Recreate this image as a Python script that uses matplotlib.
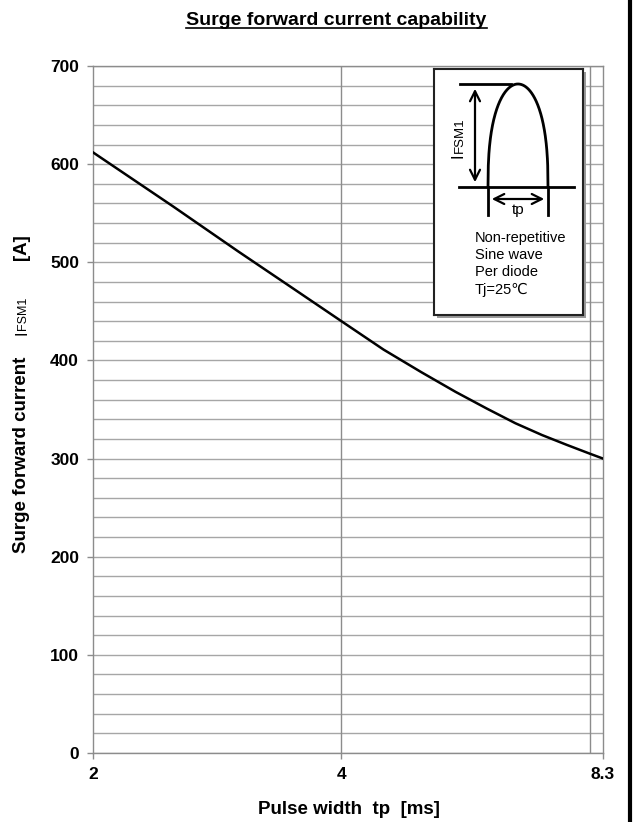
import numpy as np
import matplotlib
matplotlib.use('Agg')
import matplotlib.pyplot as plt
from matplotlib.lines import Line2D
from matplotlib.patches import Rectangle
from matplotlib.ticker import FixedLocator, MultipleLocator, NullLocator

plt.rcParams['font.family'] = ['Liberation Sans', 'DejaVu Sans']

# surge current vs pulse width
pulse_width_ms = [2, 2.5, 3, 3.5, 4, 4.5, 5, 5.5, 6, 6.5, 7, 7.5, 8, 8.3]
surge_current_a = [612, 557, 511, 473, 440, 411, 388, 368, 351, 336, 324, 314, 305, 300]

x_ticks = [2, 4, 8.3]
x_tick_labels = ['2', '4', '8.3']
y_ticks = [0, 100, 200, 300, 400, 500, 600, 700]

W, H = 633, 822


# pixel position (from top-left) -> figure fraction
def px(x, y):
    return x / W, 1 - y / H


fig = plt.figure(figsize=(W / 100, H / 100), dpi=100)
ax = fig.add_axes([93 / W, 1 - 753 / H, (603 - 93) / W, (753 - 66) / H])

ax.plot(pulse_width_ms, surge_current_a, color='black', lw=1.8, zorder=3)

ax.set_xscale('log')
ax.set_xlim(2, 8.3)
ax.set_ylim(0, 700)
ax.xaxis.set_major_locator(FixedLocator(x_ticks))
ax.set_xticklabels(x_tick_labels)
ax.xaxis.set_minor_locator(NullLocator())
ax.yaxis.set_major_locator(FixedLocator(y_ticks))
ax.yaxis.set_minor_locator(MultipleLocator(20))

grid_col = '#a6a6a6'
ax.grid(axis='y', which='both', color=grid_col, lw=1.0, zorder=1)
ax.axvline(4, color='#8c8c8c', lw=1.0, zorder=1)
ax.axvline(8, color='#8c8c8c', lw=1.0, zorder=1)
ax.set_axisbelow(True)

for s in ax.spines.values():
    s.set_color('#8c8c8c')
    s.set_linewidth(1.0)

ax.tick_params(axis='both', which='major', length=4, width=1, color='#8c8c8c',
               labelsize=12.5, pad=6)
ax.tick_params(axis='y', which='minor', length=0)
for lab in ax.get_xticklabels() + ax.get_yticklabels():
    lab.set_fontweight('bold')

# title with underline
fig.text(*px(336.5, 25), 'Surge forward current capability', ha='center', va='baseline',
         fontsize=14, fontweight='bold')
fig.add_artist(Line2D([186 / W, 487 / W], [1 - 28 / H] * 2, color='black', lw=1.2))

# x label
fig.text(*px(348.5, 814), 'Pulse width  tp  [ms]', ha='center', va='baseline',
         fontsize=13.5, fontweight='bold')

# y label pieces (rotated)
rot = dict(rotation=90, rotation_mode='anchor', ha='left', va='baseline')
fig.text(*px(26, 553), 'Surge forward current', fontsize=13.5, fontweight='bold', **rot)
fig.text(*px(26, 335), 'I', fontsize=11.5, **rot)
fig.text(*px(26, 330), 'FSM1', fontsize=9, **rot)
fig.text(*px(26, 260), '[A]', fontsize=13.5, fontweight='bold', **rot)

# page border on the right
fig.add_artist(Line2D([630 / W] * 2, [0, 1], color='black', lw=3))

# inset schematic, drawn in pixel coordinates
fig.add_artist(Rectangle(px(437, 318), 149 / W, 246 / H, facecolor='#9a9a9a',
                         edgecolor='none', zorder=1))
ins = fig.add_axes([434 / W, 1 - 315 / H, 149 / W, 246 / H], zorder=2)
ins.set_xlim(434, 583)
ins.set_ylim(315, 69)
ins.set_xticks([])
ins.set_yticks([])
for s in ins.spines.values():
    s.set_color('#222222')
    s.set_linewidth(1.5)

ins.plot([460, 511], [84, 84], color='black', lw=2)
ins.plot([459, 574], [187, 187], color='black', lw=2)
u = np.linspace(-1, 1, 200)
arc_x = 518 + 30 * u
arc_y = 187 - 103 * (1 - u ** 2) ** (1 / 2.5)
ins.plot(arc_x, arc_y, color='black', lw=2)
ins.plot([488, 488], [187, 215], color='black', lw=2)
ins.plot([548, 548], [187, 215], color='black', lw=2)
ins.annotate('', xy=(475, 86), xytext=(475, 185),
             arrowprops=dict(arrowstyle='<->', color='black', lw=1.6, mutation_scale=18))
ins.annotate('', xy=(489, 199), xytext=(547, 199),
             arrowprops=dict(arrowstyle='<->', color='black', lw=1.6, mutation_scale=18))
ins.text(518, 210, 'tp', ha='center', va='center', fontsize=11)
ins.text(463, 158, 'I', fontsize=12, **rot)
ins.text(463, 153, 'FSM1', fontsize=9.5, **rot)

notes = ['Non-repetitive', 'Sine wave', 'Per diode', 'Tj=25\u2103']
for i, t in enumerate(notes):
    ins.text(475, 242 + i * 17.2, t, ha='left', va='baseline', fontsize=10.5)

fig.savefig('out.png', dpi=100)
